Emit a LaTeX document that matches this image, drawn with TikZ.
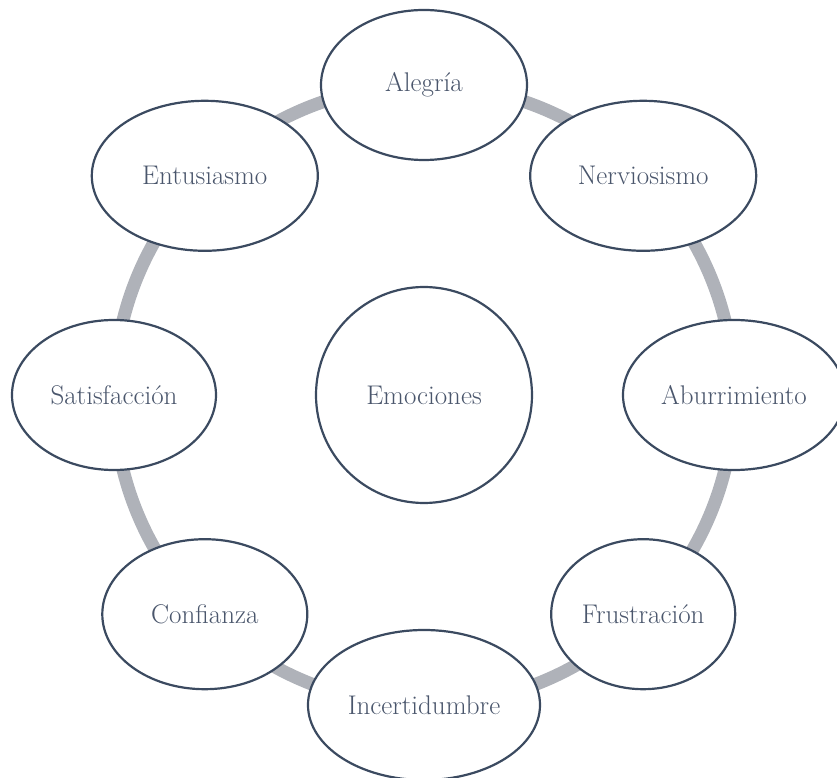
\documentclass[tikz,border=0pt]{standalone}
\usepackage{xcolor}
\usepackage{tikz}
\usetikzlibrary{shapes.geometric,positioning}

\definecolor{borde}{RGB}{59,74,96}
\definecolor{texto}{RGB}{74,86,108}
\definecolor{anillogris}{RGB}{175,178,185}

\tikzset{
  emo/.style={ellipse, draw=borde, line width=2.2pt, fill=white,
    minimum height=150pt, inner sep=0pt, text=texto,
    font=\fontsize{27}{31}\selectfont},
  centro/.style={circle, draw=borde, line width=2.2pt, fill=white,
    minimum size=216pt, inner sep=0pt, text=texto,
    font=\fontsize{27}{31}\selectfont},
  anillo/.style={draw=anillogris, line width=13pt}
}

\begin{document}
\begin{tikzpicture}[x=1pt,y=1pt]
        \useasboundingbox (-424,-383) rectangle (413,395);
        \coordinate (mid) at (0,0);

        % ring behind the nodes
        \draw[anillo] (mid) circle (310pt);

        % centre
        \node[centro] (emociones) at (mid) {Emociones};

        % nodes on the ring
        \node[emo, minimum width=206pt] (alegria) at (90:310) {Alegría};
        \node[emo, minimum width=226pt] (nervios) at (45:310) {Nerviosismo};
        \node[emo, minimum width=222pt] (aburri) at (0:310) {Aburrimiento};
        \node[emo, minimum width=184pt] (frustra) at (-45:310) {Frustración};
        \node[emo, minimum width=232pt] (incerti) at (-90:310) {Incertidumbre};
        \node[emo, minimum width=205pt] (confianza) at (-135:310) {Confianza};
        \node[emo, minimum width=204pt] (satisf) at (180:310) {Satisfacción};
        \node[emo, minimum width=226pt] (entusia) at (135:310) {Entusiasmo};

      \end{tikzpicture}
\end{document}
